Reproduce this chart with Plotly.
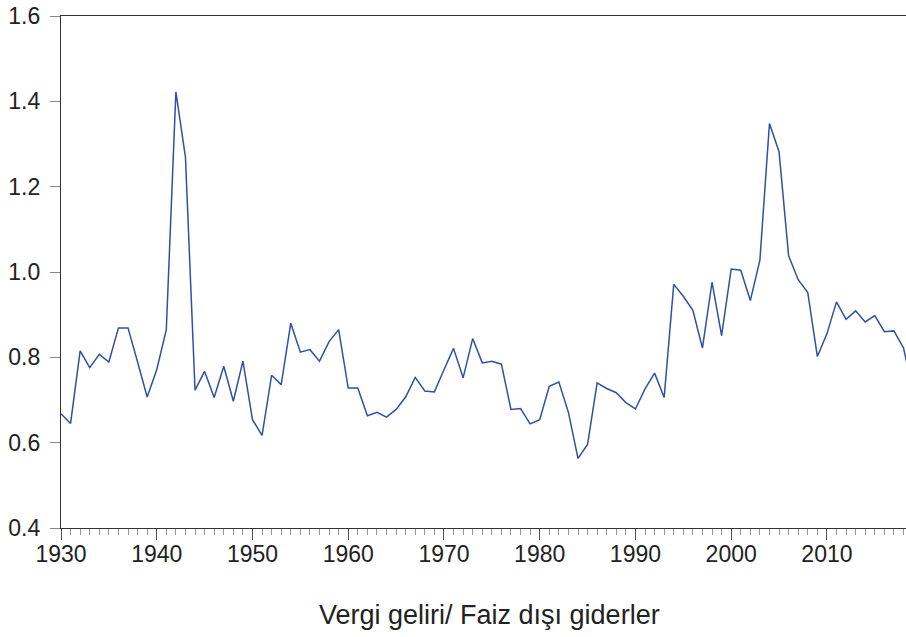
import plotly.graph_objects as go

years = list(range(1930, 2020))
values = [
    0.668, 0.645, 0.815, 0.776, 0.807, 0.789, 0.869, 0.869, 0.789, 0.707,  # 1930-1939
    0.771, 0.865, 1.422, 1.269, 0.723, 0.767, 0.706, 0.779, 0.697, 0.791,  # 1940-1949
    0.654, 0.617, 0.758, 0.736, 0.880, 0.812, 0.818, 0.791, 0.837, 0.865,  # 1950-1959
    0.728, 0.728, 0.663, 0.671, 0.660, 0.678, 0.707, 0.753, 0.721, 0.719,  # 1960-1969
    0.771, 0.821, 0.752, 0.844, 0.787, 0.791, 0.784, 0.678, 0.680, 0.644,  # 1970-1979
    0.654, 0.732, 0.742, 0.671, 0.563, 0.596, 0.740, 0.727, 0.717, 0.694,  # 1980-1989
    0.679, 0.726, 0.763, 0.706, 0.971, 0.943, 0.910, 0.822, 0.976, 0.851,  # 1990-1999
    1.007, 1.004, 0.933, 1.028, 1.348, 1.282, 1.038, 0.982, 0.952, 0.802,  # 2000-2009
    0.855, 0.930, 0.889, 0.909, 0.883, 0.898, 0.860, 0.862, 0.822, 0.720,  # 2010-2019
]
x_tick_vals = list(range(1930, 2020, 10))
y_tick_vals = [0.4, 0.6, 0.8, 1.0, 1.2, 1.4, 1.6]
title_text = "Vergi geliri/ Faiz dışı giderler"

fig = go.Figure()
fig.add_trace(go.Scatter(
    x=years, y=values, mode="lines",
    line=dict(color="#3050A5", width=1.5),
    showlegend=False, hoverinfo="skip",
))

font_family = "Liberation Sans, Arial, sans-serif"

fig.update_layout(
    width=906, height=637,
    margin=dict(l=61, r=0, t=16, b=109, autoexpand=False),
    paper_bgcolor="white", plot_bgcolor="white",
    font=dict(family=font_family, color="#222222"),
    xaxis=dict(
        range=[1930, 2018.26],
        tickvals=x_tick_vals,
        ticktext=[str(v) for v in x_tick_vals],
        ticks="outside", ticklen=11, tickcolor="#555555", tickwidth=1,
        ticklabelstandoff=-6,
        minor=dict(dtick=1, tick0=1930, ticks="outside", ticklen=6,
                   tickcolor="#999999", tickwidth=1, showgrid=False),
        showline=True, linecolor="#333333", linewidth=1.2, mirror=True,
        showgrid=False, zeroline=False,
        tickfont=dict(size=23, family=font_family, color="#222222"),
    ),
    yaxis=dict(
        range=[0.4, 1.6],
        tickvals=y_tick_vals,
        ticktext=[f"{v:.1f}" for v in y_tick_vals],
        ticks="outside", ticklen=10, tickcolor="#888888", tickwidth=1,
        ticklabelstandoff=5, ticklabeloverflow="allow",
        showline=True, linecolor="#333333", linewidth=1.2,
        showgrid=False, zeroline=False,
        tickfont=dict(size=23, family=font_family, color="#222222"),
    ),
    annotations=[dict(
        text=title_text, xref="paper", yref="paper",
        x=(489 - 61) / 845, y=(528 - 615) / 512,
        xanchor="center", yanchor="middle", showarrow=False,
        font=dict(size=27, family=font_family, color="#222222"),
    )],
)

fig.write_html(
    "out.html",
    config={"displayModeBar": False, "staticPlot": True},
    post_script="document.body.style.margin='0';document.body.style.overflow='hidden';",
)
